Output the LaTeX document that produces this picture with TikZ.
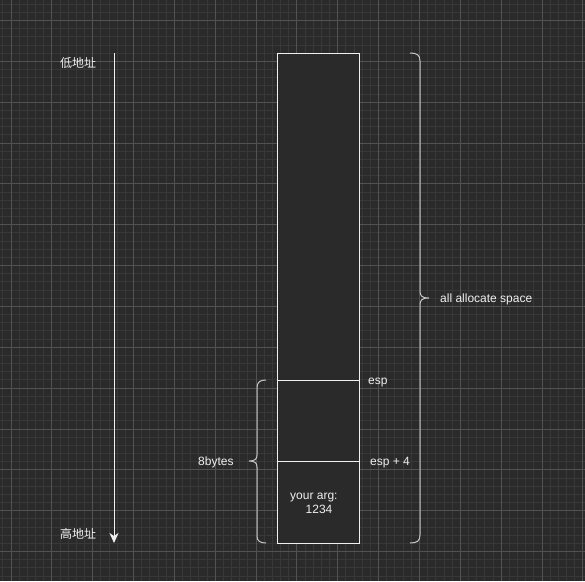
\documentclass[tikz,border=0pt]{standalone}
\usepackage{fontspec}
\setmainfont{Liberation Sans}
\newfontfamily\cjk{Noto Sans CJK SC}
\usetikzlibrary{arrows.meta}
\definecolor{bgc}{HTML}{2A2A2A}
\definecolor{minorc}{HTML}{383838}
\definecolor{majorc}{HTML}{525252}
\definecolor{txtc}{HTML}{F0F0F0}
\definecolor{bracec}{HTML}{C8C8C8}
\definecolor{boxc}{HTML}{2A2A2A}
\tikzset{
  cell/.style={draw=txtc, line width=1pt, fill=boxc, minimum width=82pt, inner sep=0pt, outer sep=0pt, text=txtc, font=\fontsize{12}{14}\selectfont, align=center},
  lbl/.style={text=txtc, font=\fontsize{12}{14}\selectfont, inner sep=0pt, text height=8.4pt, text depth=0pt},
  cjklbl/.style={text=txtc, font=\cjk\fontsize{12}{14}\selectfont, inner sep=0pt},
  bracepath/.style={draw=bracec, line width=1pt},
  addrarrow/.style={draw=txtc, line width=1pt, -{Stealth[length=10pt,width=9pt,inset=3pt]}}
}
\begin{document}
\begin{tikzpicture}[x=1pt,y=-1pt]
\useasboundingbox (0,0) rectangle (585,581);
\fill[bgc] (0,0) rectangle (585,581);
% minor grid
\foreach \i in {-1,...,71} {\draw[minorc,line width=1pt] ({11+\i*8.17},0) -- ({11+\i*8.17},581);}
\foreach \i in {-2,...,69} {\draw[minorc,line width=1pt] (0,{20.5+\i*8.17}) -- (585,{20.5+\i*8.17});}
% major grid
\foreach \i in {0,...,14} {\draw[majorc,line width=1pt] ({11+\i*40.85},0) -- ({11+\i*40.85},581);}
\foreach \i in {0,...,13} {\draw[majorc,line width=1pt] (0,{20.5+\i*40.85}) -- (585,{20.5+\i*40.85});}

% stack cells
\node[cell, minimum height=327pt, anchor=north west] (top) at (277,53) {};
\node[cell, minimum height=81pt, anchor=north west] (mid) at (277,380) {};
\node[cell, minimum height=82pt, anchor=north west] (bot) at (277,461) {};
\node[lbl, anchor=west] (arg1) at (290,495) {your arg:};
\node[lbl, anchor=west] (arg2) at (305.5,509) {1234};

% address arrow
\coordinate (astart) at (114,53);
\coordinate (aend) at (114,543);
\draw[addrarrow] (astart) -- (aend);
\node[cjklbl] (low) at (78,62.5) {低地址};
\node[cjklbl] (high) at (78,533.5) {高地址};

% labels
\node[lbl, anchor=west] (esp) at (368,380) {esp};
\node[lbl, anchor=west] (esp4) at (370,461) {esp + 4};
\node[lbl, anchor=west] (eight) at (198,461) {8bytes};
\node[lbl, anchor=west] (alloc) at (440,298) {all allocate space};

% left brace
\draw[bracepath] (266,380) .. controls (260,380) and (257,382) .. (257,388) -- (257,455)
  .. controls (257,459) and (255,461) .. (249,461)
  .. controls (255,461) and (257,463) .. (257,467) -- (257,536)
  .. controls (257,541) and (260,543) .. (266,543);
% right brace
\draw[bracepath] (410,53) .. controls (417,53) and (420,55) .. (420,61) -- (420,291)
  .. controls (420,296) and (422,298) .. (429,298)
  .. controls (422,298) and (420,300) .. (420,305) -- (420,535)
  .. controls (420,541) and (417,543) .. (410,543);
\end{tikzpicture}
\end{document}
